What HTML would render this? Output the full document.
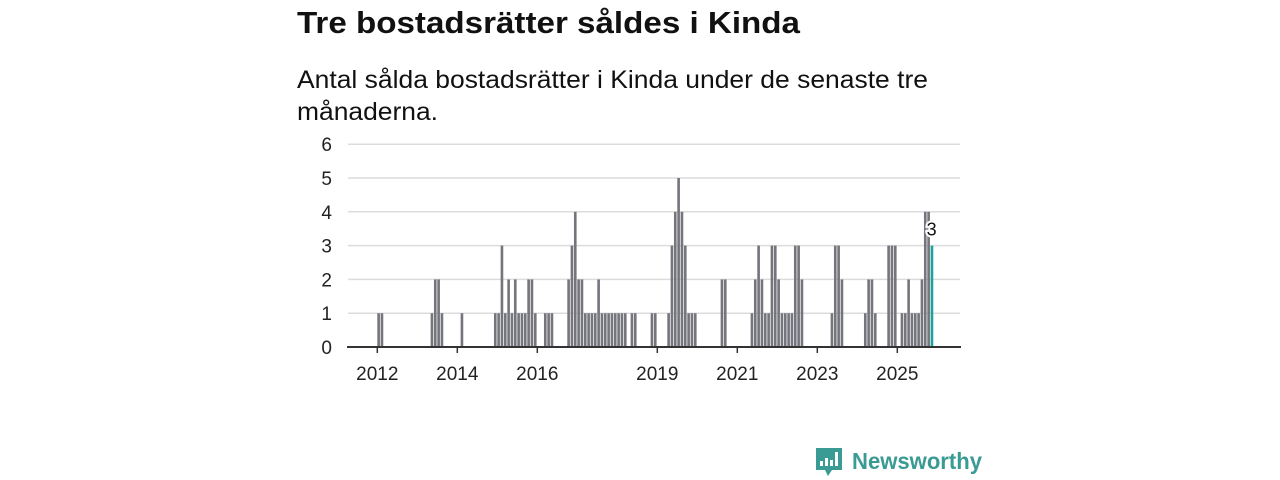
<!DOCTYPE html>
<html><head><meta charset="utf-8"><style>
html,body{margin:0;padding:0;background:#fff;width:1280px;height:480px;overflow:hidden}
text{font-family:"Liberation Sans",sans-serif}
</style></head><body>
<svg id="chart" width="1280" height="480" xmlns="http://www.w3.org/2000/svg">
<text x="297" y="33" font-size="31" font-weight="bold" fill="#111" textLength="503" lengthAdjust="spacingAndGlyphs">Tre bostadsrätter såldes i Kinda</text>
<text x="297" y="88" font-size="25" fill="#111" textLength="631" lengthAdjust="spacingAndGlyphs">Antal sålda bostadsrätter i Kinda under de senaste tre</text>
<text x="297" y="120" font-size="25" fill="#111" textLength="141" lengthAdjust="spacingAndGlyphs">månaderna.</text>
<g id="grid"></g><g id="bars"></g><g id="axes"></g>
<g>
<path d="M816 448 h26 v22 h-10 l-4 6 l-3 -6 h-9 z" fill="#3a9a94"/>
<rect x="820" y="461" width="3" height="5" fill="#fff"/><rect x="825" y="458" width="3" height="8" fill="#fff"/><rect x="830" y="460" width="3" height="6" fill="#fff"/><rect x="835" y="452" width="3" height="14" fill="#fff"/>
<text x="852" y="469" font-size="23" font-weight="bold" fill="#3a9a94" textLength="130" lengthAdjust="spacingAndGlyphs">Newsworthy</text>
</g>
</svg>
<script>
const startYear = 2012;
const values = [1,1,0,0,0,0,0,0,0,0,0,0, 0,0,0,0,1,2,2,1,0,0,0,0, 0,1,0,0,0,0,0,0,0,0,0,1, 1,3,1,2,1,2,1,1,1,2,2,1, 0,0,1,1,1,0,0,0,0,2,3,4, 2,2,1,1,1,1,2,1,1,1,1,1, 1,1,1,0,1,1,0,0,0,0,1,1, 0,0,0,1,3,4,5,4,3,1,1,1, 0,0,0,0,0,0,0,2,2,0,0,0, 0,0,0,0,1,2,3,2,1,1,3,3, 2,1,1,1,1,3,3,2,0,0,0,0, 0,0,0,0,1,3,3,2,0,0,0,0, 0,0,1,2,2,1,0,0,0,3,3,3, 0,1,1,2,1,1,1,2,4,4,3];
const yTicks = [0,1,2,3,4,5,6];
const xTickYears = [2012,2014,2016,2019,2021,2023,2025];
const highlightLabel = "3";
const NS="http://www.w3.org/2000/svg";
const x0=377.3, yearW=40, mw=yearW/12, yBase=347, unit=33.8;
const xs=m=>x0+m*mw, ys=v=>yBase-v*unit;
function mk(p,tag,a){const e=document.createElementNS(NS,tag);for(const k in a)e.setAttribute(k,a[k]);document.getElementById(p).appendChild(e);return e;}
yTicks.forEach(t=>{
 if(t>0){const l=mk('grid','line',{x1:348,x2:960,y1:ys(t),y2:ys(t),stroke:'#dcdcdc','stroke-width':1.5});
 
 }
 const tx=mk('axes','text',{x:332,y:ys(t)+7,'font-size':19,fill:'#222','text-anchor':'end'});tx.textContent=t;
 
 
});
const last=values.length-1;
values.forEach((v,i)=>{if(!v)return;
 const r=mk('bars','rect',{x:xs(i),y:ys(v),width:mw-0.7,height:v*unit,fill:i===last?'#1aa39a':'#75757d'});
 
 
});
const lbl=mk('bars','text',{x:xs(last)+1,y:ys(values[last])-10,'font-size':18,fill:'#111','text-anchor':'middle',stroke:'#fff','stroke-width':4,'paint-order':'stroke'});
lbl.textContent=highlightLabel;


const ax=mk('axes','line',{x1:347,x2:961,y1:yBase,y2:yBase,stroke:'#333','stroke-width':2});


xTickYears.forEach(y=>{const x=xs((y-startYear)*12);
 const t=mk('axes','line',{x1:x,x2:x,y1:yBase,y2:yBase+6,stroke:'#333','stroke-width':1.5});
 
 
 const tx=mk('axes','text',{x:x,y:380,'font-size':19,fill:'#222','text-anchor':'middle'});tx.textContent=y;
 
 
});
</script>
</body></html>
